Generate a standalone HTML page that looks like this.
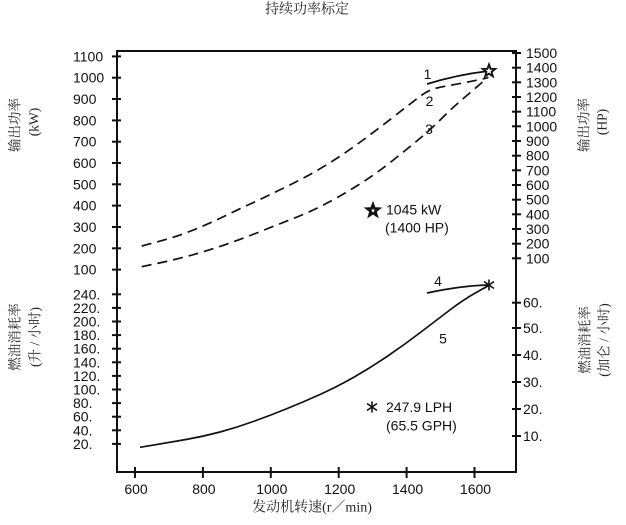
<!DOCTYPE html>
<html>
<head>
<meta charset="utf-8">
<style>
html,body{margin:0;padding:0;background:#fff;}
svg{display:block;}
.num{font-family:"Liberation Sans",Arial,sans-serif;font-size:14px;fill:#111;}
.cjk{font-family:"Liberation Serif","Noto Serif CJK SC","Noto Sans CJK SC",serif;fill:#222;}
</style>
</head>
<body>
<svg width="626" height="525" viewBox="0 0 626 525" xmlns="http://www.w3.org/2000/svg">
<rect width="626" height="525" fill="#fff"/>

<!-- title -->
<text class="cjk" x="307" y="10" font-size="14" text-anchor="middle" dominant-baseline="central">持续功率标定</text>

<!-- frame -->
<g stroke="#111" stroke-width="2" fill="none">
<line x1="116" y1="51" x2="517" y2="51"/>
<line x1="117" y1="51" x2="117" y2="473"/>
<line x1="116" y1="472" x2="517" y2="472"/>
<line x1="516" y1="51" x2="516" y2="473"/>
</g>

<!-- left ticks -->
<g stroke="#111" stroke-width="2">
<line x1="112" y1="56.4" x2="121" y2="56.4"/>
<line x1="112" y1="77.7" x2="121" y2="77.7"/>
<line x1="112" y1="99" x2="121" y2="99"/>
<line x1="112" y1="120.4" x2="121" y2="120.4"/>
<line x1="112" y1="141.7" x2="121" y2="141.7"/>
<line x1="112" y1="163" x2="121" y2="163"/>
<line x1="112" y1="184.3" x2="121" y2="184.3"/>
<line x1="112" y1="205.6" x2="121" y2="205.6"/>
<line x1="112" y1="227" x2="121" y2="227"/>
<line x1="112" y1="248.3" x2="121" y2="248.3"/>
<line x1="112" y1="269.6" x2="121" y2="269.6"/>
<line x1="112" y1="294.3" x2="121" y2="294.3"/>
<line x1="112" y1="307.9" x2="121" y2="307.9"/>
<line x1="112" y1="321.5" x2="121" y2="321.5"/>
<line x1="112" y1="335.1" x2="121" y2="335.1"/>
<line x1="112" y1="348.7" x2="121" y2="348.7"/>
<line x1="112" y1="362.3" x2="121" y2="362.3"/>
<line x1="112" y1="375.9" x2="121" y2="375.9"/>
<line x1="112" y1="389.5" x2="121" y2="389.5"/>
<line x1="112" y1="403.1" x2="121" y2="403.1"/>
<line x1="112" y1="416.7" x2="121" y2="416.7"/>
<line x1="112" y1="430.3" x2="121" y2="430.3"/>
<line x1="112" y1="443.9" x2="121" y2="443.9"/>
</g>

<!-- right ticks -->
<g stroke="#111" stroke-width="2">
<line x1="512" y1="53" x2="521" y2="53"/>
<line x1="512" y1="67.7" x2="521" y2="67.7"/>
<line x1="512" y1="82.3" x2="521" y2="82.3"/>
<line x1="512" y1="97" x2="521" y2="97"/>
<line x1="512" y1="111.7" x2="521" y2="111.7"/>
<line x1="512" y1="126.3" x2="521" y2="126.3"/>
<line x1="512" y1="141" x2="521" y2="141"/>
<line x1="512" y1="155.7" x2="521" y2="155.7"/>
<line x1="512" y1="170.3" x2="521" y2="170.3"/>
<line x1="512" y1="185" x2="521" y2="185"/>
<line x1="512" y1="199.7" x2="521" y2="199.7"/>
<line x1="512" y1="214.3" x2="521" y2="214.3"/>
<line x1="512" y1="229" x2="521" y2="229"/>
<line x1="512" y1="243.7" x2="521" y2="243.7"/>
<line x1="512" y1="258.3" x2="521" y2="258.3"/>
<line x1="512" y1="302.7" x2="521" y2="302.7"/>
<line x1="512" y1="328" x2="521" y2="328"/>
<line x1="512" y1="355" x2="521" y2="355"/>
<line x1="512" y1="382" x2="521" y2="382"/>
<line x1="512" y1="409" x2="521" y2="409"/>
<line x1="512" y1="436" x2="521" y2="436"/>
</g>

<!-- bottom ticks -->
<g stroke="#111" stroke-width="2">
<line x1="135" y1="467" x2="135" y2="478"/>
<line x1="202.9" y1="467" x2="202.9" y2="478"/>
<line x1="270.8" y1="467" x2="270.8" y2="478"/>
<line x1="338.7" y1="467" x2="338.7" y2="478"/>
<line x1="406.6" y1="467" x2="406.6" y2="478"/>
<line x1="474.5" y1="467" x2="474.5" y2="478"/>
</g>

<!-- left tick labels -->
<g class="num" text-anchor="start" dominant-baseline="central">
<text x="73" y="56.4">1100</text>
<text x="73" y="77.7">1000</text>
<text x="73" y="99">900</text>
<text x="73" y="120.4">800</text>
<text x="73" y="141.7">700</text>
<text x="73" y="163">600</text>
<text x="73" y="184.3">500</text>
<text x="73" y="205.6">400</text>
<text x="73" y="227">300</text>
<text x="73" y="248.3">200</text>
<text x="73" y="269.6">100</text>
<text x="73" y="294.3">240.</text>
<text x="73" y="307.9">220.</text>
<text x="73" y="321.5">200.</text>
<text x="73" y="335.1">180.</text>
<text x="73" y="348.7">160.</text>
<text x="73" y="362.3">140.</text>
<text x="73" y="375.9">120.</text>
<text x="73" y="389.5">100.</text>
<text x="73" y="403.1">80.</text>
<text x="73" y="416.7">60.</text>
<text x="73" y="430.3">40.</text>
<text x="73" y="443.9">20.</text>
</g>

<!-- right tick labels -->
<g class="num" text-anchor="start" dominant-baseline="central">
<text x="526" y="53">1500</text>
<text x="526" y="67.7">1400</text>
<text x="526" y="82.3">1300</text>
<text x="526" y="97">1200</text>
<text x="526" y="111.7">1100</text>
<text x="526" y="126.3">1000</text>
<text x="526" y="141">900</text>
<text x="526" y="155.7">800</text>
<text x="526" y="170.3">700</text>
<text x="526" y="185">600</text>
<text x="526" y="199.7">500</text>
<text x="526" y="214.3">400</text>
<text x="526" y="229">300</text>
<text x="526" y="243.7">200</text>
<text x="526" y="258.3">100</text>
<text x="523" y="302.7">60.</text>
<text x="523" y="328">50.</text>
<text x="523" y="355">40.</text>
<text x="523" y="382">30.</text>
<text x="523" y="409">20.</text>
<text x="523" y="436">10.</text>
</g>

<!-- x tick labels -->
<g class="num" text-anchor="middle" dominant-baseline="central">
<text x="136" y="489">600</text>
<text x="203.9" y="489">800</text>
<text x="271.8" y="489">1000</text>
<text x="339.7" y="489">1200</text>
<text x="407.6" y="489">1400</text>
<text x="475.5" y="489">1600</text>
</g>

<!-- x axis title -->
<text class="cjk" x="312" y="508" font-size="14" text-anchor="middle" dominant-baseline="central">发动机转速(r／min)</text>

<!-- vertical labels -->
<g class="cjk" font-size="13.5" text-anchor="middle" dominant-baseline="central">
<text transform="translate(15,125) rotate(-90)">输出功率</text>
<text transform="translate(34,122) rotate(-90)">(kW)</text>
<text transform="translate(15,337) rotate(-90)">燃油消耗率</text>
<text transform="translate(35,337) rotate(-90)">(升 / 小时)</text>
<text transform="translate(584,125) rotate(-90)">输出功率</text>
<text transform="translate(602,122) rotate(-90)">(HP)</text>
<text transform="translate(585,340) rotate(-90)">燃油消耗率</text>
<text transform="translate(604,340) rotate(-90)">(加仑 / 小时)</text>
</g>

<!-- curves -->
<g fill="none" stroke="#111" stroke-width="1.7" stroke-linecap="butt">
<path stroke-dasharray="10 6" d="M141.7,246 L159.2,241.35 Q176.7,236.7 193.35,230 Q210,223.3 226.65,215.15 Q243.3,207 260,199.5 Q276.7,191.5 293.35,183.25 Q310,175 326.65,164.75 Q343.3,154.5 360,142.25 Q376.7,130 393.35,117 Q410,104 419.15,97 Q428.3,90 435.8,88.25 Q443.3,86.5 455,84.4 Q466.7,82.3 476.85,80.15 L487,78"/>
<path stroke-dasharray="10 6" d="M141.7,266.7 L159.2,263 Q176.7,259.3 193.35,254.65 Q210,250 226.65,244.15 Q243.3,238.3 260,231.65 Q276.7,225 293.35,218.5 Q310,212 326.65,203.25 Q343.3,194.5 360,183.9 Q376.7,173.3 393.35,160 Q410,146.7 420,138.35 Q430,130 441.65,118.5 Q453.3,107 463.3,98.5 Q473.3,90 480.8,83.5 L488.3,77"/>
<path d="M427,84 Q458,74.5 489,71"/>
<path d="M140,447.3 L155,444.8 Q170,442.3 186.65,439.4 Q203.3,436.5 220,432 Q236.7,427.5 253.35,421.5 Q270,415.5 286.65,408.75 Q303.3,402 320,394.5 Q336.7,387 353.35,377.5 Q370,368 386.65,356.75 Q403.3,345.5 420,332.75 Q436.7,320 449.85,310 Q463,300 475.75,292.75 L488.5,285.5"/>
<path d="M427,293 Q462,285.5 489,285"/>
</g>

<!-- markers -->
<g fill="#fff" stroke="#111" stroke-width="1.9" stroke-linejoin="miter">
<path transform="translate(489,71)" d="M0,-6.5 L1.59,-2.18 L6.18,-2.01 L2.57,0.83 L3.82,5.26 L0,2.7 L-3.82,5.26 L-2.57,0.83 L-6.18,-2.01 L-1.59,-2.18 Z"/>
</g>
<g fill="#fff" stroke="#111" stroke-width="2.6" stroke-linejoin="miter">
<path transform="translate(373,210.5)" d="M0,-6 L1.47,-2.02 L5.7,-1.85 L2.37,0.77 L3.53,4.85 L0,2.5 L-3.53,4.85 L-2.37,0.77 L-5.7,-1.85 L-1.47,-2.02 Z"/>
</g>
<g stroke="#111" stroke-width="1.6">
<g transform="translate(489,285)">
<line x1="0" y1="-5.5" x2="0" y2="5.5"/>
<line x1="-5" y1="-3.5" x2="5" y2="3.5"/>
<line x1="-5" y1="3.5" x2="5" y2="-3.5"/>
</g>
<g transform="translate(372,407)">
<line x1="0" y1="-5.5" x2="0" y2="5.5"/>
<line x1="-5" y1="-3.5" x2="5" y2="3.5"/>
<line x1="-5" y1="3.5" x2="5" y2="-3.5"/>
</g>
</g>

<!-- curve labels -->
<g class="num" text-anchor="middle" dominant-baseline="central">
<text x="427.5" y="74">1</text>
<text x="429.5" y="101">2</text>
<text x="429" y="129">3</text>
<text x="438" y="281">4</text>
<text x="443" y="338.5">5</text>
</g>

<!-- annotations -->
<g class="num" text-anchor="start" dominant-baseline="central">
<text x="386" y="209.5">1045 kW</text>
<text x="385" y="227.3">(1400 HP)</text>
<text x="386" y="407">247.9 LPH</text>
<text x="386" y="425.7">(65.5 GPH)</text>
</g>
</svg>
</body>
</html>
